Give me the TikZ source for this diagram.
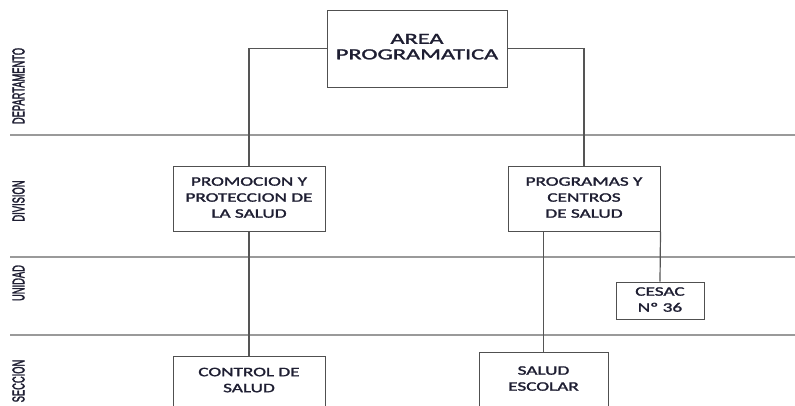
\documentclass[tikz,border=0pt]{standalone}
\usepackage{fontspec}
\setmainfont{Carlito}[FakeBold=1.3]
\newfontfamily\boxfont{Carlito}[FakeBold=1.4]
\newfontfamily\labfont{Liberation Sans}[FakeBold=2.5]
\usepackage{graphicx}
\definecolor{txtc}{HTML}{1E1E32}
\definecolor{boxc}{HTML}{505050}
\definecolor{sepc}{HTML}{9A9A9A}
\definecolor{conc}{HTML}{555555}
\newcommand{\btext}[2]{\scalebox{#1}[1]{\begin{tabular}{@{}c@{}}#2\end{tabular}}}
\newcommand{\sidelab}[1]{\labfont\scalebox{0.82}[1.5]{\fontsize{11.4}{12}\selectfont #1}}
\tikzset{
  orgbox/.style={draw=boxc, line width=1pt, fill=white, inner sep=0pt, text=txtc,
     font=\boxfont\fontsize{13}{16}\selectfont},
  txtnode/.style={inner sep=0pt, text=txtc, font=\boxfont\fontsize{13}{16}\selectfont},
  sideline/.style={draw=sepc, line width=1.3pt},
  conn/.style={draw=conc, line width=1.2pt},
  sidetext/.style={rotate=90, inner sep=0pt, text=txtc}
}
\begin{document}
\begin{tikzpicture}[x=1pt,y=-1pt]
\useasboundingbox (0,0) rectangle (795,405);
\clip (0,0) rectangle (795,405);
% separators
\coordinate (s1a) at (10,135); \coordinate (s1b) at (795,135);
\coordinate (s2a) at (10,257); \coordinate (s2b) at (795,257);
\coordinate (s3a) at (10,335); \coordinate (s3b) at (795,335);
\draw[sideline] (s1a) -- (s1b);
\draw[sideline] (s2a) -- (s2b);
\draw[sideline] (s3a) -- (s3b);
% side labels
\node[sidetext] (ldep) at (18.5,86) {\sidelab{DEPARTAMENTO}};
\node[sidetext] (ldiv) at (18.5,201) {\sidelab{DIVISION}};
\node[sidetext] (luni) at (18.5,283) {\sidelab{UNIDAD}};
\node[sidetext] (lsec) at (18.5,381) {\sidelab{SECCION}};
% boxes
\node[orgbox, minimum width=180pt, minimum height=77pt,
      font=\boxfont\fontsize{15.5}{15.5}\selectfont] (area) at (417,48.5)
      {\btext{1.57}{AREA\\PROGRAMATICA}};
\node[orgbox, minimum width=152pt, minimum height=65pt] (promo) at (249,198.5)
      {\btext{1.48}{PROMOCION Y\\PROTECCION DE\\LA SALUD}};
\node[orgbox, minimum width=152pt, minimum height=65pt] (prog) at (584,198.5)
      {\btext{1.48}{PROGRAMAS Y\\CENTROS\\DE SALUD}};
\node[orgbox, minimum width=88pt, minimum height=37pt] (cesac) at (660,300.5)
      {\btext{1.48}{CESAC\\Nº 36}};
\node[orgbox, minimum width=152pt, minimum height=100pt, anchor=north] (ctrl) at (249,356) {};
\node[txtnode] (ctrltxt) at (249,381) {\btext{1.48}{CONTROL DE\\SALUD}};
\node[orgbox, minimum width=129pt, minimum height=100pt, anchor=north] (esc) at (543.5,352) {};
\node[txtnode] (esctxt) at (543.5,379.5) {\btext{1.48}{SALUD\\ESCOLAR}};
% connectors
\draw[conn] (area.west) -| (promo.north);
\draw[conn] (area.east) -| (prog.north);
\draw[conn] (promo.south) -- (ctrl.north);
\draw[conn] (esc.north) -- (esc.north |- prog.south);
\draw[conn] (cesac.north) -- (prog.south east);
\end{tikzpicture}
\end{document}
